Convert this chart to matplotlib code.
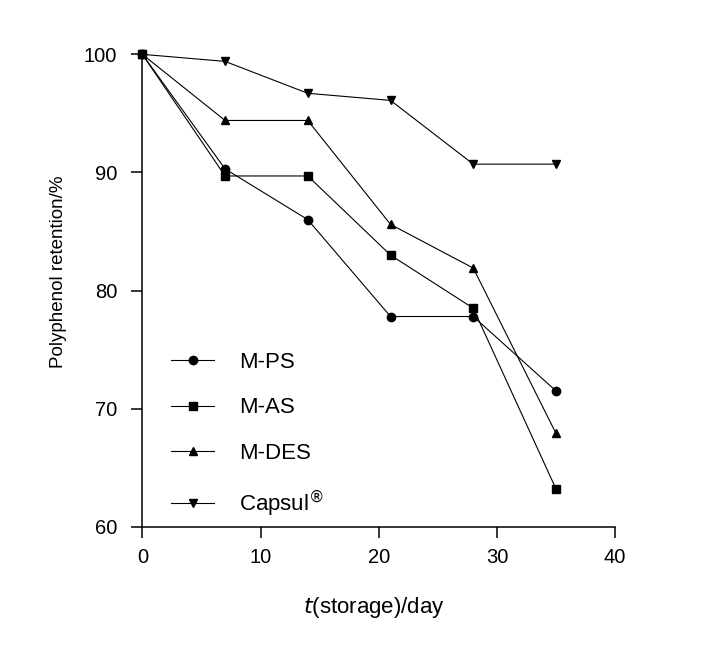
import matplotlib
matplotlib.use("Agg")
import matplotlib.pyplot as plt

plt.rcParams['font.family'] = ['Liberation Sans', 'DejaVu Sans']

days = [0, 7, 14, 21, 28, 35]
m_ps = [100, 90.3, 86.0, 77.8, 77.8, 71.5]
m_as = [100, 89.7, 89.7, 83.0, 78.5, 63.2]
m_des = [100, 94.4, 94.4, 85.6, 81.9, 67.9]
capsul = [100, 99.4, 96.7, 96.1, 90.7, 90.7]

series = [
    (m_ps, 'o', 'M-PS', 3),
    (m_as, 's', 'M-AS', 4),
    (m_des, '^', 'M-DES', 2),
    (capsul, 'v', r'Capsul$^{\circledR}$', 2),
]

fig = plt.figure(figsize=(7.07, 6.49), dpi=100)
ax = fig.add_axes([0.2013, 0.1884, 0.6687, 0.7279])

for values, marker, label, z in series:
    ax.plot(days, values, color='black', linewidth=0.8, marker=marker,
            markersize=6 if marker != 's' else 5.5, label=label, zorder=z,
            clip_on=False)

ax.set_xlim(0, 40)
ax.set_ylim(60, 100)
ax.set_xticks([0, 10, 20, 30, 40])
ax.set_yticks([60, 70, 80, 90, 100])

for side in ['top', 'right']:
    ax.spines[side].set_visible(False)
for side in ['left', 'bottom']:
    ax.spines[side].set_linewidth(1.1)

ax.tick_params(direction='out', length=8, width=1.1, labelsize=14.5)
ax.tick_params(axis='y', pad=10)
ax.tick_params(axis='x', pad=7.5)

ax.set_xlabel(r'$\it{t}$(storage)/day', fontsize=16)
ax.set_ylabel('Polyphenol retention/%', fontsize=13.5)
ax.xaxis.set_label_coords(0.49, -0.145)
ax.yaxis.set_label_coords(-0.16, 0.54)

ax.legend(loc='upper left', bbox_to_anchor=(0.061, 0.37), frameon=False,
          fontsize=16, handlelength=1.95, handletextpad=1.1, labelspacing=1.1,
          borderaxespad=0, borderpad=0)

fig.savefig('out.png', dpi=100)
